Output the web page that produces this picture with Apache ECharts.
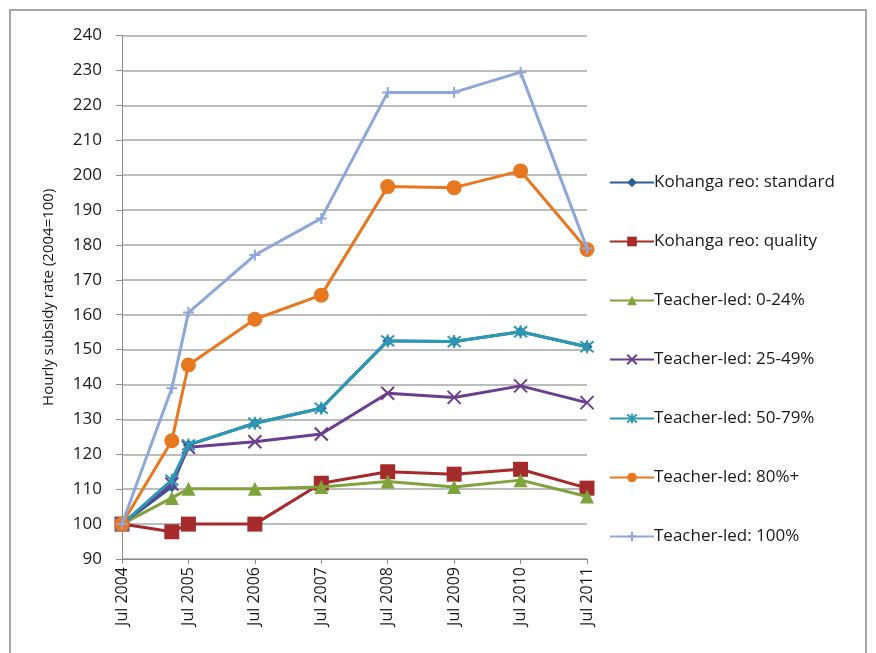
<!DOCTYPE html>
<html lang="en">
<head>
	<meta charset="UTF-8">
	<title>Hourly subsidy rate</title>
	<script src="https://cdn.jsdelivr.net/npm/echarts@6/dist/echarts.min.js"></script>
	<style>
		* {
			margin: 0;
			padding: 0;
		}
		body {
			background: #fff;
		}
		#container {
			width: 876px;
			height: 653px;
		}
	</style>
</head>
<body>
<div id="container"></div>
<script type="text/javascript">
	// months after Jul 2004 (second point is around Apr 2005)
	var months = [0, 9, 12, 24, 36, 48, 60, 72, 84];
	var tickYears = [2004, 2005, 2006, 2007, 2008, 2009, 2010, 2011];

	var names = [
		'Kohanga reo: standard',
		'Kohanga reo: quality',
		'Teacher-led: 0-24%',
		'Teacher-led: 25-49%',
		'Teacher-led: 50-79%',
		'Teacher-led: 80%+',
		'Teacher-led: 100%'
	];

	var krStandard = [100, 110.7, 122.7, 128.9, 133.2, 152.5, 152.3, 155.1, 150.8];
	var krQuality = [100, 97.8, 100.0, 100.0, 111.7, 115.0, 114.3, 115.7, 110.3];
	var tl0_24 = [100, 107.5, 110.1, 110.1, 110.6, 112.2, 110.6, 112.6, 107.9];
	var tl25_49 = [100, 111.5, 122.0, 123.6, 125.8, 137.5, 136.3, 139.6, 134.8];
	var tl50_79 = [100, 112.6, 122.7, 128.9, 133.2, 152.5, 152.3, 155.1, 150.8];
	var tl80 = [100, 123.9, 145.6, 158.7, 165.6, 196.7, 196.4, 201.2, 178.7];
	var tl100 = [100, 138.9, 160.6, 177.1, 187.6, 223.7, 223.7, 229.5, 179.0];

	var ctner = document.getElementById('container');
	var myChart = echarts.init(ctner);

	function pairs(vals) {
		var out = [];
		for (var i = 0; i < vals.length; i++) {
			out.push([months[i], vals[i]]);
		}
		return out;
	}

	var crossPath = 'path://M0,0L10,10M10,0L0,10';
	var starPath = 'path://M0,0L10,10M10,0L0,10M5,-1L5,11';
	var plusPath = 'path://M5,0L5,10M0,5L10,5';

	function line(idx, vals, color, symbol, size, stroked) {
		return {
			name: names[idx],
			type: 'line',
			data: pairs(vals),
			symbol: symbol,
			symbolSize: size,
			lineStyle: {color: color, width: 3},
			itemStyle: stroked ?
				{color: color, borderColor: color, borderWidth: 2} :
				{color: color, borderWidth: 0},
			emphasis: {disabled: true},
			z: 2 + idx
		};
	}

	var option = {
		animation: false,
		textStyle: {fontFamily: 'Open Sans'},
		graphic: [{
			type: 'rect',
			shape: {x: 10, y: 10, width: 856, height: 660},
			style: {fill: null, stroke: '#a6a6a6', lineWidth: 2},
			silent: true
		}],
		grid: {
			left: 122,
			right: 289,
			top: 35.5,
			bottom: 94
		},
		legend: {
			orient: 'vertical',
			left: 604,
			top: 169,
			itemGap: 42,
			itemWidth: 44,
			itemHeight: 12,
			textStyle: {fontSize: 17, color: '#1a1a1a', padding: [0, 0, 0, -5]},
			data: names
		},
		xAxis: {
			type: 'value',
			min: 0,
			max: 84,
			interval: 12,
			axisLine: {lineStyle: {color: '#8c8c8c', width: 1}},
			axisTick: {show: true, length: 5, lineStyle: {color: '#8c8c8c'}},
			splitLine: {show: false},
			axisLabel: {
				rotate: 90,
				fontSize: 16,
				color: '#1a1a1a',
				margin: 8,
				formatter: function (v) {
					return 'Jul ' + tickYears[v / 12];
				}
			}
		},
		yAxis: {
			type: 'value',
			min: 90,
			max: 240,
			interval: 10,
			name: 'Hourly subsidy rate (2004=100)',
			nameLocation: 'middle',
			nameGap: 66,
			nameTextStyle: {fontSize: 15, color: '#1a1a1a'},
			axisLine: {show: true, lineStyle: {color: '#8c8c8c', width: 1}},
			axisTick: {show: true, length: 6, lineStyle: {color: '#8c8c8c'}},
			splitLine: {lineStyle: {color: '#a6a6a6', width: 1.5}},
			axisLabel: {fontSize: 17, color: '#1a1a1a', margin: 20}
		},
		series: [
			line(0, krStandard, '#2E5C96', 'diamond', 11, false),
			line(1, krQuality, '#A52A2C', 'rect', 15, false),
			line(2, tl0_24, '#7FA33B', 'triangle', 14, false),
			line(3, tl25_49, '#6B3D8F', crossPath, 13, true),
			line(4, tl50_79, '#2B98B5', starPath, 13, true),
			line(5, tl80, '#E8781F', 'circle', 15, false),
			line(6, tl100, '#8EA7D9', plusPath, 11, true)
		]
	};

	myChart.setOption(option);
</script>
</body>
</html>
